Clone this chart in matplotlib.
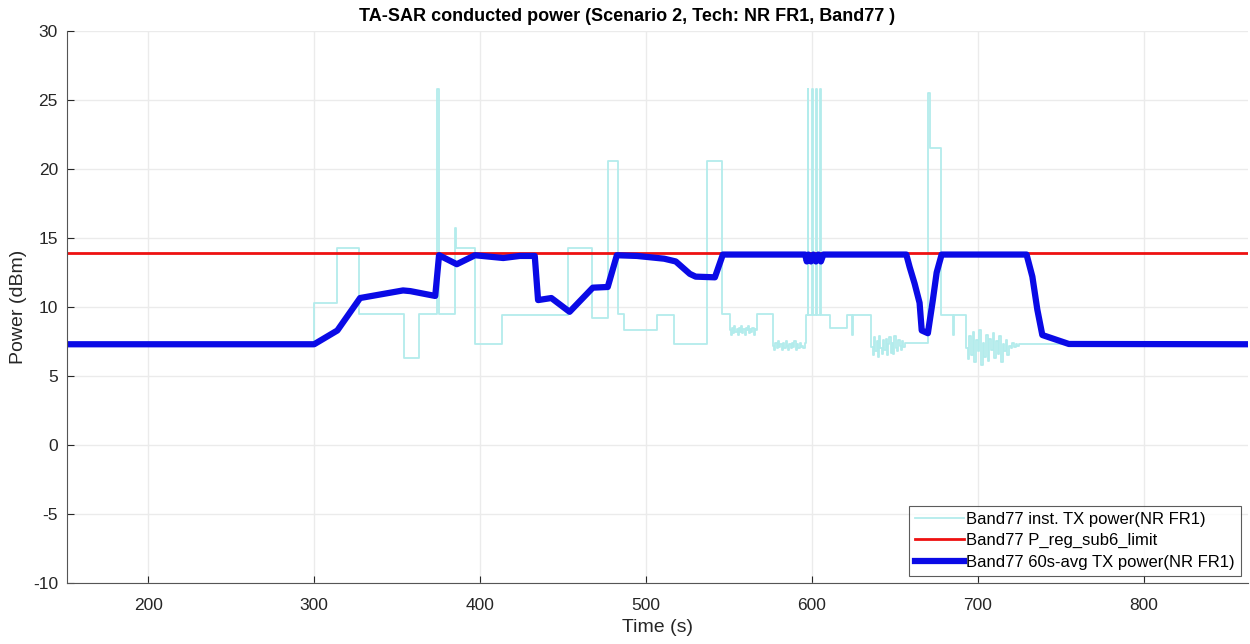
import numpy as np
import matplotlib
matplotlib.use('Agg')
import matplotlib.pyplot as plt

plt.rcParams['font.family'] = ['Liberation Sans', 'DejaVu Sans']
plt.rcParams['axes.unicode_minus'] = False

# ========================
# 데이터
# ========================
# 순시 TX 전력 (계단형): 구간 시작 시간, 값
inst_t = [151, 300, 314, 327, 354, 363, 374, 375.5, 385, 385.8, 397, 413, 433,
          453, 467.5, 477, 483, 487, 507, 517, 537, 546]
inst_p = [7.3, 10.3, 14.3, 9.5, 6.3, 9.5, 25.8, 9.5, 15.7, 14.3, 7.3, 9.4, 9.4,
          14.3, 9.2, 20.6, 9.5, 8.3, 9.4, 7.3, 20.6, 9.5]

# 잡음 구간 1 (550.6 ~ 567 s)
noise1_p = [8.3, 8.0, 8.5, 8.1, 8.6, 8.2, 8.4, 8.0, 8.5, 8.2, 8.6, 8.1, 8.4,
            8.0, 8.5, 8.3, 8.6, 8.1, 8.4, 8.2, 8.5, 8.0, 8.4, 8.3]
mid1_t = [567]
mid1_p = [9.5]
# 잡음 구간 2 (576.5 ~ 596 s)
noise2_p = [7.2, 6.9, 7.4, 7.0, 7.5, 7.1, 7.3, 6.9, 7.4, 7.0, 7.5, 7.2, 6.9,
            7.3, 7.0, 7.4, 7.1, 7.5, 6.9, 7.3, 7.0, 7.4, 7.1, 7.2, 7.0, 7.4]

# 펄스 구간 (597 ~ 636 s)
pulse_t = [596.5, 597.6, 598.0, 600.2, 600.6, 602.7, 603.1, 605.1, 605.5, 611,
           621, 624, 625]
pulse_p = [9.4, 25.8, 9.4, 25.8, 9.4, 25.8, 9.4, 25.8, 9.4, 8.5,
           9.4, 8.0, 9.4]
# 잡음 구간 3 (636 ~ 656 s)
noise3_p = [7.1, 6.5, 7.8, 6.8, 7.5, 6.4, 7.9, 7.0, 6.6, 7.6, 6.9, 7.7, 6.5,
            7.3, 7.8, 6.7, 7.4, 6.6, 7.9, 7.0, 6.8, 7.6, 7.2, 6.9, 7.5, 7.1]

mid3_t = [656, 670, 671.5, 678, 685, 686]
mid3_p = [7.4, 25.5, 21.5, 9.4, 8.0, 9.4]
# 잡음 구간 4 (693 ~ 725 s)
noise4_p = [7.0, 6.2, 7.9, 6.5, 8.2, 6.0, 7.6, 6.8, 8.3, 5.8, 7.4, 6.4, 8.0,
            6.1, 7.7, 6.9, 8.1, 6.3, 7.5, 6.6, 7.9, 6.0, 7.3, 6.8, 7.6, 6.5,
            7.2, 7.0, 7.4, 7.1, 7.3, 7.2]
tail_t = [725, 863]
tail_p = [7.3, 7.3]

# 60초 평균 TX 전력
avg_t = [151, 300, 314, 327.7, 353.6, 358, 373, 375.3, 386, 397, 414, 424, 433,
         435, 443, 454, 468, 477, 482.5, 494.6, 511, 518, 526.5, 530, 541.6,
         546.4, 596, 597, 598, 599.5, 601, 602.5, 604, 605.5, 607, 657, 659,
         662, 665, 666.3, 670, 673, 675.3, 678.3, 729.5, 733, 736, 739, 755, 863]
avg_p = [7.3, 7.3, 8.3, 10.65, 11.2, 11.15, 10.8, 13.75, 13.1, 13.75, 13.55,
         13.7, 13.7, 10.5, 10.65, 9.65, 11.4, 11.45, 13.75, 13.7, 13.5, 13.3,
         12.4, 12.2, 12.15, 13.8, 13.8, 13.3, 13.8, 13.3, 13.8, 13.3, 13.8,
         13.3, 13.8, 13.8, 12.9, 11.7, 10.3, 8.3, 8.1, 10.5, 12.5, 13.8, 13.8,
         12.2, 9.8, 7.97, 7.32, 7.3]

limit_p = 13.9
xlim = (151, 863)
ylim = (-10, 30)

# ========================
# 순시 전력 시퀀스 조립
# ========================
t_all = list(inst_t)
p_all = list(inst_p)
t_all += list(np.linspace(550.6, 567, len(noise1_p), endpoint=False))
p_all += noise1_p
t_all += mid1_t
p_all += mid1_p
t_all += list(np.linspace(576.5, 596.5, len(noise2_p), endpoint=False))
p_all += noise2_p
t_all += pulse_t
p_all += pulse_p
t_all += list(np.linspace(636, 656, len(noise3_p), endpoint=False))
p_all += noise3_p
t_all += mid3_t
p_all += mid3_p
t_all += list(np.linspace(693, 725, len(noise4_p), endpoint=False))
p_all += noise4_p
t_all += tail_t
p_all += tail_p

# ========================
# 그리기
# ========================
fig = plt.figure(figsize=(12.5, 6.44), dpi=100)
ax = fig.add_axes([0.0536, 0.0947, 0.9448, 0.8572])

ax.plot(t_all, p_all, drawstyle='steps-post', color='#b3ecec', lw=1.3,
        label='Band77 inst. TX power(NR FR1)')
ax.plot(xlim, [limit_p, limit_p], color='#ee1111', lw=2,
        label='Band77 P_reg_sub6_limit')
ax.plot(avg_t, avg_p, color='#0a0ae6', lw=4.5, solid_joinstyle='round',
        label='Band77 60s-avg TX power(NR FR1)')

ax.set_xlim(*xlim)
ax.set_ylim(*ylim)
ax.set_xticks([200, 300, 400, 500, 600, 700, 800])
ax.set_yticks(range(-10, 31, 5))
ax.grid(True, color='#ebebeb', lw=1)
ax.set_axisbelow(True)
for s in ['top', 'right']:
    ax.spines[s].set_visible(False)
for s in ['left', 'bottom']:
    ax.spines[s].set_color('#555555')
ax.tick_params(direction='in', length=5, colors='#262626', labelsize=12.5)
ax.tick_params(axis='x', pad=11)
ax.tick_params(axis='y', pad=6.5)

ax.set_xlabel('Time (s)', fontsize=14, color='#262626', labelpad=4)
ax.set_ylabel('Power (dBm)', fontsize=14, color='#262626', labelpad=4)
ax.set_title('TA-SAR conducted power (Scenario 2, Tech: NR FR1, Band77 )',
             fontsize=13, fontweight='bold', pad=7, x=0.474)

leg = ax.legend(loc='lower right', fontsize=12, fancybox=False,
                handlelength=2.9, handletextpad=0.15, borderpad=0.35,
                labelspacing=0.38, borderaxespad=0.45)
leg.get_frame().set_edgecolor('#333333')
leg.get_frame().set_linewidth(0.8)

fig.savefig('out.png', dpi=100)
